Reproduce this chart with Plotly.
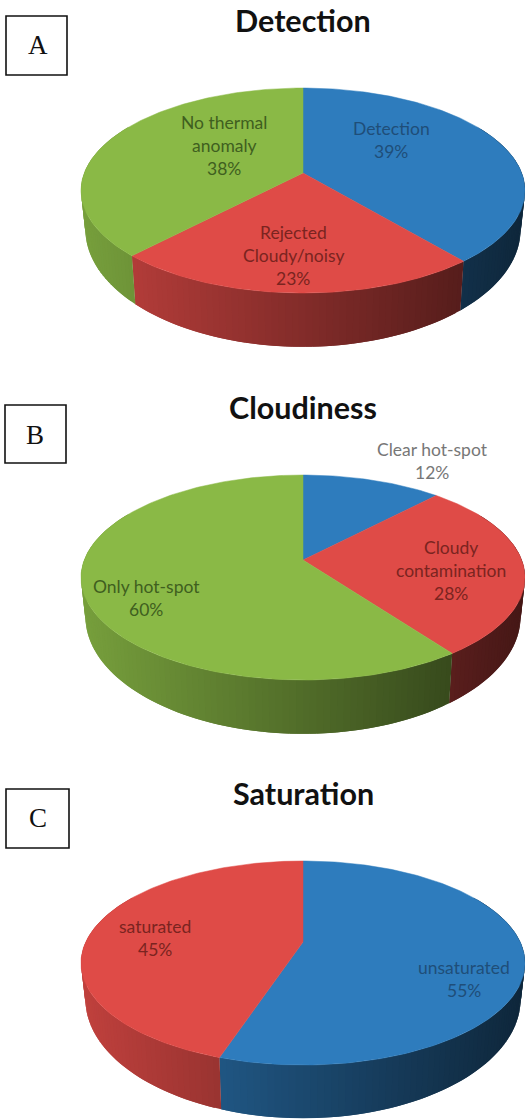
import math
import plotly.graph_objects as go

# ---------- data ----------
detection_names = ["Detection", "Rejected Cloudy/noisy", "No thermal anomaly"]
detection_values = [39, 23, 38]
cloudiness_names = ["Clear hot-spot", "Cloudy contamination", "Only hot-spot"]
cloudiness_values = [12, 28, 60]
saturation_names = ["unsaturated", "saturated"]
saturation_values = [55, 45]

BLUE, RED, GREEN = (46, 124, 189), (223, 75, 71), (138, 185, 70)

panels = [
    dict(title="Detection", title_y=20, letter="A", box=(6, 16, 67, 75), letter_pos=(38, 45),
         names=detection_names, values=detection_values, colors=[BLUE, RED, GREEN],
         vy=173, k=0.171, b=99.5, d=37,
         labels=[(["Detection", "39%"], 391, 128, "#1F4E79"),
                 (["Rejected", "Cloudy/noisy", "23%"], 293, 232, "#7A2420"),
                 (["No thermal", "anomaly", "38%"], 224, 122, "#3F5F1F")]),
    dict(title="Cloudiness", title_y=407, letter="B", box=(5, 405, 66, 463), letter_pos=(35, 435),
         names=cloudiness_names, values=cloudiness_values, colors=[BLUE, RED, GREEN],
         vy=560, k=0.171, b=99.5, d=37,
         labels=[(["Clear hot-spot", "12%"], 432, 449, "#777777"),
                 (["Cloudy", "contamination", "28%"], 451, 547, "#7A2420"),
                 (["Only hot-spot", "60%"], 146, 586, "#3F5F1F")]),
    dict(title="Saturation", title_y=793, letter="C", box=(6, 789, 69, 848), letter_pos=(38, 818),
         names=saturation_names, values=saturation_values, colors=[BLUE, RED],
         vy=942, k=0.206, b=97.7, d=33.5,
         labels=[(["unsaturated", "55%"], 464, 967, "#1F4E79"),
                 (["saturated", "45%"], 155, 926, "#7A2420")]),
]

CX, HALF_W = 303, 222
fig = go.Figure()


def project(theta, p, lower=False):
    """Perspective projection of a rim point (theta clockwise from the back of the disc)."""
    w = 1 + p["k"] * math.cos(theta)
    a = HALF_W * math.sqrt(1 - p["k"] ** 2)
    x = a * math.sin(theta) / w
    y = p["vy"] - p["b"] * math.cos(theta) / w
    if lower:
        x *= 0.98
        y += p["d"] / w ** 2
    return CX + x, y


def poly(xs, ys, rgb, lw=0.0):
    col = "rgb(%d,%d,%d)" % rgb
    fig.add_trace(go.Scatter(x=xs + xs[:1], y=ys + ys[:1], mode="lines", fill="toself",
                             fillcolor=col, line=dict(color=col, width=lw),
                             hoverinfo="skip", showlegend=False))


shapes, annotations = [], []
for p in panels:
    total = sum(p["values"])
    edges = [0.0]
    for v in p["values"]:
        edges.append(edges[-1] + v / total * 2 * math.pi)

    # side wall: each strip reaches under the next one, so no seams show
    for sector in range(len(p["values"])):
        lo = max(edges[sector], math.radians(60))
        hi = min(edges[sector + 1], math.radians(300))
        if lo >= hi:
            continue
        step = math.radians(1.5)
        th = lo
        while th < hi:
            end = min(th + step, hi)
            reach = min(th + 2 * step, hi)
            n = 3
            top = [project(th + (reach - th) * j / n, p) for j in range(n + 1)]
            bot = [project(th + (reach - th) * j / n, p, True) for j in range(n, -1, -1)]
            pts = top + bot
            t = (project((th + end) / 2, p)[0] - 81) / 444
            m = 0.86 - 0.55 * t
            rgb = tuple(int(round(c * m)) for c in p["colors"][sector])
            poly([q[0] for q in pts], [q[1] for q in pts], rgb)
            th = end

    # top face
    for i, c in enumerate(p["colors"]):
        n = max(4, int((edges[i + 1] - edges[i]) / math.radians(1)))
        arc = [project(edges[i] + (edges[i + 1] - edges[i]) * j / n, p) for j in range(n + 1)]
        poly([CX] + [q[0] for q in arc], [p["vy"]] + [q[1] for q in arc], c, 0.5)

    x0, y0, x1, y1 = p["box"]
    shapes.append(dict(type="rect", xref="x", yref="y", x0=x0, y0=y0, x1=x1, y1=y1,
                       line=dict(color="#111111", width=1.6)))
    annotations.append(dict(x=p["letter_pos"][0], y=p["letter_pos"][1], text=p["letter"], showarrow=False,
                            font=dict(family="Liberation Serif", size=27, color="#111111")))
    annotations.append(dict(x=CX, y=p["title_y"], text="<b>%s</b>" % p["title"], showarrow=False,
                            font=dict(family="Lato", size=30.5, color="#111111")))
    for lines, lx, ly, col in p["labels"]:
        for j, line in enumerate(lines):
            annotations.append(dict(x=lx, y=ly + j * 23, text=line, showarrow=False,
                                    font=dict(family="Lato", size=17.5, color=col)))

fig.update_layout(
    width=525, height=1119, margin=dict(l=0, r=0, t=0, b=0),
    paper_bgcolor="white", plot_bgcolor="white", showlegend=False,
    xaxis=dict(range=[0, 525], visible=False, fixedrange=True),
    yaxis=dict(range=[1119, 0], visible=False, fixedrange=True),
    shapes=shapes, annotations=annotations,
)
fig.write_html("out.html", post_script="document.body.style.margin='0';document.body.style.overflow='hidden';",
               config=dict(displayModeBar=False))
